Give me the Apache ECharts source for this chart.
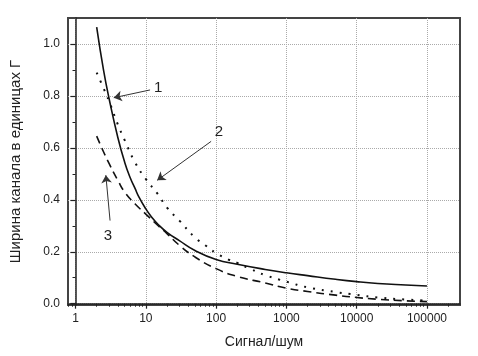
<!DOCTYPE html>
<html>
<head>
<meta charset="utf-8">
<script src="https://cdn.jsdelivr.net/npm/echarts@6/dist/echarts.min.js"></script>
<style>
  html, body { margin: 0; padding: 0; background: #fff; }
  #chart { width: 478px; height: 356px; }
</style>
</head>
<body>
<div id="chart"></div>
<script>
// кривая 1 (сплошная)
var snr1   = [2, 2.5, 3, 4, 5, 6, 7, 8, 10, 12, 15, 20, 30, 50, 100, 200, 500, 1000, 2000, 5000, 10000, 20000, 50000, 100000];
var width1 = [1.065, 0.9, 0.79, 0.64, 0.545, 0.485, 0.445, 0.41, 0.365, 0.335, 0.305, 0.275, 0.243, 0.205, 0.17, 0.152, 0.132, 0.119, 0.108, 0.094, 0.085, 0.078, 0.072, 0.068];

// кривая 2 (точки)
var snr2   = [2, 2.5, 3, 4, 5, 7, 10, 15, 20, 30, 50, 70, 100, 150, 200, 300, 500, 1000, 2000, 5000, 10000, 20000, 50000, 100000];
var width2 = [0.89, 0.83, 0.78, 0.69, 0.63, 0.545, 0.48, 0.42, 0.37, 0.32, 0.255, 0.225, 0.195, 0.17, 0.157, 0.135, 0.11, 0.085, 0.063, 0.045, 0.034, 0.024, 0.016, 0.012];

// кривая 3 (штрихи)
var snr3   = [2, 2.5, 3, 4, 5, 7, 10, 15, 20, 30, 50, 100, 200, 500, 1000, 2000, 5000, 10000, 20000, 50000, 100000];
var width3 = [0.645, 0.585, 0.54, 0.475, 0.43, 0.385, 0.345, 0.30, 0.27, 0.225, 0.18, 0.135, 0.105, 0.08, 0.06, 0.047, 0.033, 0.024, 0.017, 0.011, 0.008];

var xTicks = [1, 10, 100, 1000, 10000, 100000];
var yTicks = [0, 0.2, 0.4, 0.6, 0.8, 1.0];
var yMinorTicks = [0.1, 0.3, 0.5, 0.7, 0.9];

// подписи кривых: текст, место подписи, начало и конец стрелки
var noteText  = ['1', '2', '3'];
var notePos   = [[15, 0.83], [110, 0.66], [2.9, 0.26]];
var arrowFrom = [[11.5, 0.823], [85, 0.625], [3.1, 0.32]];
var arrowTo   = [[3.5, 0.793], [14.5, 0.475], [2.7, 0.495]];

function lg(v) { return Math.log10(v); }
function pairs(xs, ys) {
    return xs.map(function (x, i) { return [lg(x), ys[i]]; });
}

// мелкие деления логарифмической оси
var xMinor = [];
[0.1, 1, 10, 100, 1000, 10000, 100000].forEach(function (d) {
    for (var k = 2; k <= 9; k++) xMinor.push(lg(k * d));
});

var xMin = -0.107, xMax = 5.47;
xMinor = xMinor.filter(function (v) { return v > xMin && v < xMax; });

var font = 'Liberation Sans, Arial, sans-serif';
var myChart = echarts.init(document.getElementById('chart'));

var option = {
    animation: false,
    backgroundColor: '#fff',
    grid: {
        left: 68, right: 18, top: 18, bottom: 51,
        show: true, borderColor: '#444', borderWidth: 2
    },
    xAxis: [{
        type: 'value',
        min: xMin, max: xMax,
        position: 'bottom',
        name: 'Сигнал/шум',
        nameLocation: 'middle',
        nameGap: 30,
        nameTextStyle: { fontFamily: font, fontSize: 14, color: '#222' },
        axisLine: { lineStyle: { color: '#222', width: 1.5 } },
        axisTick: { customValues: xTicks.map(lg), length: 5, lineStyle: { color: '#222', width: 1.2 } },
        axisLabel: {
            customValues: xTicks.map(lg),
            formatter: function (v) { return String(Math.round(Math.pow(10, v))); },
            fontFamily: font, fontSize: 12, color: '#222', margin: 8
        },
        splitLine: { show: true, lineStyle: { type: 'dotted', color: '#aaa', width: 1 } }
    }, {
        type: 'value',
        min: xMin, max: xMax,
        position: 'bottom',
        axisLine: { show: false },
        axisTick: { customValues: xMinor, length: 3, lineStyle: { color: '#222', width: 1 } },
        axisLabel: { show: false },
        splitLine: { show: false }
    }],
    yAxis: [{
        type: 'value',
        min: -0.005, max: 1.1,
        position: 'left',
        name: 'Ширина канала в единицах Г',
        nameLocation: 'middle',
        nameGap: 45,
        nameTextStyle: { fontFamily: font, fontSize: 15, color: '#222' },
        axisLine: { show: true, lineStyle: { color: '#222', width: 1.5 } },
        axisTick: { show: true, customValues: yTicks, length: 5, lineStyle: { color: '#222', width: 1.2 } },
        axisLabel: {
            customValues: yTicks,
            formatter: function (v) { return v.toFixed(1); },
            fontFamily: font, fontSize: 12, color: '#222', margin: 8
        },
        splitLine: { show: true, lineStyle: { type: 'dotted', color: '#aaa', width: 1 } }
    }, {
        type: 'value',
        min: -0.005, max: 1.1,
        position: 'left',
        axisLine: { show: false },
        axisTick: { show: true, customValues: yMinorTicks, length: 3, lineStyle: { color: '#222', width: 1 } },
        axisLabel: { show: false },
        splitLine: { show: false }
    }],
    series: [{
        type: 'line',
        data: pairs(snr1, width1),
        smooth: true,
        symbol: 'none',
        lineStyle: { color: '#111', width: 1.6 },
        markLine: {
            silent: true,
            symbol: ['none', 'arrow'],
            symbolSize: 8,
            label: { show: false },
            lineStyle: { color: '#333', width: 1, type: 'solid' },
            data: arrowFrom.map(function (p, i) {
                return [{ coord: [lg(p[0]), p[1]] }, { coord: [lg(arrowTo[i][0]), arrowTo[i][1]] }];
            })
        },
        markPoint: {
            silent: true,
            symbol: 'circle',
            symbolSize: 0,
            label: {
                show: true, position: 'inside',
                fontFamily: font, fontSize: 15, color: '#222',
                formatter: function (p) { return p.name; }
            },
            data: notePos.map(function (p, i) {
                return { name: noteText[i], coord: [lg(p[0]), p[1]] };
            })
        }
    }, {
        type: 'line',
        data: pairs(snr2, width2),
        smooth: true,
        symbol: 'none',
        lineStyle: { color: '#111', width: 2, type: [2, 7], cap: 'butt' }
    }, {
        type: 'line',
        data: pairs(snr3, width3),
        smooth: true,
        symbol: 'none',
        lineStyle: { color: '#111', width: 1.6, type: [8, 5] }
    }]
};

myChart.setOption(option);
</script>
</body>
</html>
